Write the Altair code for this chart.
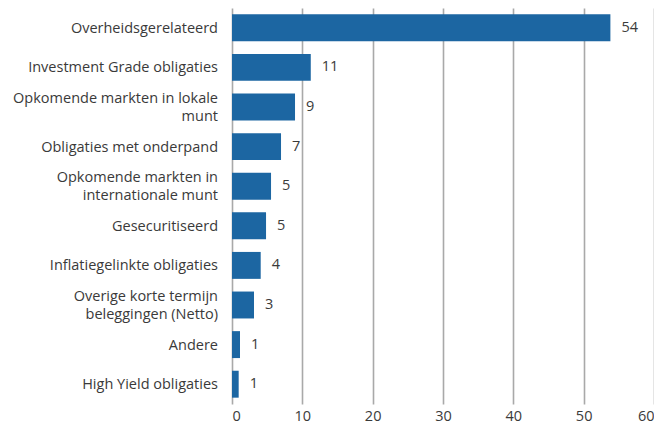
import altair as alt
import pandas as pd

categories = [
    "Overheidsgerelateerd",
    "Investment Grade obligaties",
    "Opkomende markten in lokale|munt",
    "Obligaties met onderpand",
    "Opkomende markten in|internationale munt",
    "Gesecuritiseerd",
    "Inflatiegelinkte obligaties",
    "Overige korte termijn|beleggingen (Netto)",
    "Andere",
    "High Yield obligaties",
]
values = [53.8, 11.2, 8.96, 6.97, 5.55, 4.84, 4.08, 3.13, 1.14, 0.95]
labels = ["54", "11", "9", "7", "5", "5", "4", "3", "1", "1"]
x_ticks = [0, 10, 20, 30, 40, 50, 60]

df = pd.DataFrame({"cat": categories, "val": values, "lbl": labels})

FONT = "Open Sans"
TXT = "#3a3a3a"
BAR = "#1c66a2"
FS = 14.5

y_enc = alt.Y(
    "cat:N",
    sort=categories,
    title=None,
    scale=alt.Scale(paddingInner=0.32, paddingOuter=0.16),
    axis=None,
)

x_enc = alt.X(
    "val:Q",
    title=None,
    scale=alt.Scale(domain=[0, 60], nice=False),
    axis=alt.Axis(
        values=x_ticks,
        labelFont=FONT,
        labelFontSize=FS,
        labelColor=TXT,
        labelPadding=5,
        domain=False,
        ticks=False,
        grid=True,
        gridColor="#a9a9a9",
        gridWidth=1.6,
    ),
)

bars = alt.Chart(df).mark_bar(color=BAR).encode(x=x_enc, y=y_enc)

text = alt.Chart(df).mark_text(
    align="left", baseline="middle", dx=11, font=FONT, fontSize=FS, color=TXT
).encode(x=alt.X("val:Q"), y=alt.Y("cat:N", sort=categories), text="lbl:N")

cat_labels = (
    alt.Chart(df)
    .transform_calculate(
        lines="split(datum.cat, '|')",
        off="indexof(datum.cat, '|') >= 0 ? 5.5 : 14.5",
    )
    .mark_text(
        align="right",
        baseline="middle",
        font=FONT,
        fontSize=FS,
        color=TXT,
        lineHeight=18,
    )
    .encode(
        x=alt.value(-14),
        y=alt.Y("cat:N", sort=categories),
        yOffset=alt.YOffset("off:Q", scale=None),
        text=alt.Text("lines:N"),
    )
)

chart = (
    alt.layer(bars, text, cat_labels)
    .properties(
        width=422,
        height=396,
        autosize=alt.AutoSizeParams(type="none"),
        padding={"left": 224, "top": 0, "right": 0, "bottom": 21},
        background="white",
    )
    .configure_view(stroke=None)
)

chart.save("out.html", embed_options={"renderer": "svg", "actions": False})
